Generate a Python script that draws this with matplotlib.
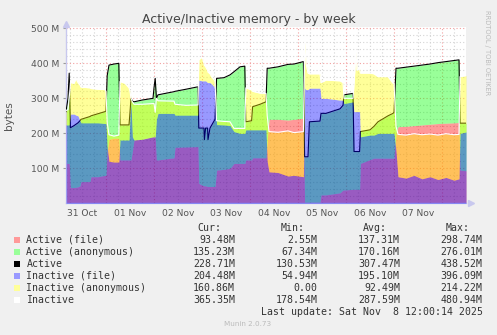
import matplotlib
matplotlib.use('Agg')
import matplotlib.pyplot as plt

# hours since 31 Oct 00:00, values in M (10^6 bytes)
hours = [4.0, 5.0, 5.6, 6.2, 8.0, 9.0, 10.0, 11.0, 11.5, 16.0, 16.5, 20.0, 23.5, 24.0, 24.6,
         25.5, 28.0, 30.4, 31.0, 33.5, 35.5, 36.0, 36.5, 37.2, 38.0, 42.0, 47.5, 48.0, 48.6,
         49.2, 50.0, 58.0, 58.5, 64.0, 70.0, 70.4, 72.0, 73.0, 73.2, 73.8, 74.8, 75.0, 76.0,
         77.0, 78.5, 79.3, 83.0, 86.0, 88.0, 91.0, 93.4, 93.9, 96.8, 97.3, 101.0, 104.0,
         104.6, 105.5, 110.0, 115.0, 118.0, 122.7, 123.3, 124.0, 125.0, 125.7, 131.0, 131.5,
         134.0, 141.0, 142.5, 143.0, 147.5, 148.0, 149.0, 149.5, 150.8, 151.2, 156.0, 158.0,
         160.0, 165.0, 167.5, 168.0, 169.0, 170.0, 174.0, 178.0, 182.0, 186.0, 190.0, 194.0,
         198.0, 200.5, 201.0, 204.0]
active_file = [114, 114, 114, 45, 45, 46, 47, 50, 62, 62, 76, 76, 80, 80, 150,
               183, 186, 186, 124, 124, 124, 124, 124, 150, 181, 183, 190, 190, 190,
               124, 124, 130, 160, 161, 162, 57, 52, 50, 50, 50, 48, 48, 48,
               48, 48, 95, 97, 100, 114, 114, 114, 124, 124, 130, 130, 130,
               180, 240, 240, 238, 240, 243, 3, 3, 3, 3, 3, 24,
               24, 30, 38, 38, 40, 40, 40, 40, 40, 114, 125, 129,
               129, 129, 129, 129, 200, 219, 220, 222, 224, 226, 228, 229,
               230, 231, 95, 93]
active_total = [262, 300, 372, 216, 222, 226, 230, 236, 240, 248, 250, 256, 262, 264, 365,
                395, 398, 400, 224, 224, 224, 260, 300, 292, 290, 295, 300, 330, 357,
                300, 310, 319, 320, 326, 333, 215, 215, 215, 182, 215, 215, 182, 215,
                225, 240, 357, 359, 367, 376, 390, 392, 233, 236, 276, 283, 290,
                386, 386, 390, 397, 398, 405, 133, 133, 133, 233, 235, 257,
                257, 270, 280, 310, 314, 148, 148, 148, 148, 205, 210, 220,
                233, 250, 257, 260, 386, 386, 389, 392, 395, 398, 402, 405,
                408, 410, 229, 229]
inactive_file = [224, 224, 224, 255, 255, 252, 250, 236, 230, 230, 230, 230, 228, 228, 160,
                 120, 118, 118, 181, 181, 181, 250, 285, 190, 181, 183, 190, 190, 190,
                 240, 257, 257, 252, 252, 252, 352, 350, 350, 350, 350, 345, 345, 345,
                 340, 330, 225, 224, 222, 205, 200, 200, 210, 210, 210, 210, 210,
                 120, 90, 88, 78, 80, 76, 329, 325, 325, 329, 329, 300,
                 300, 295, 295, 285, 290, 262, 262, 262, 262, 190, 195, 195,
                 200, 200, 200, 200, 150, 76, 72, 80, 70, 76, 68, 74,
                 66, 70, 200, 204]
inactive_total = [265, 268, 300, 345, 343, 356, 345, 338, 332, 330, 328, 326, 325, 320, 230,
                  196, 192, 195, 348, 343, 330, 320, 300, 290, 283, 283, 285, 285, 260,
                  300, 293, 292, 283, 280, 281, 410, 418, 400, 395, 390, 380, 375, 370,
                  360, 350, 236, 234, 233, 214, 214, 214, 330, 324, 320, 315, 314,
                  250, 205, 203, 207, 202, 205, 460, 400, 372, 370, 370, 345,
                  352, 350, 345, 300, 300, 340, 433, 380, 385, 372, 372, 370,
                  362, 362, 343, 343, 220, 197, 195, 199, 196, 198, 195, 199,
                  196, 197, 362, 365]

day_ticks = [12, 36, 60, 84, 108, 132, 156, 180]
day_labels = ['31 Oct', '01 Nov', '02 Nov', '03 Nov', '04 Nov', '05 Nov', '06 Nov', '07 Nov']
y_ticks = [100, 200, 300, 400, 500]

legend_names = ['Active (file)', 'Active (anonymous)', 'Active',
                'Inactive (file)', 'Inactive (anonymous)', 'Inactive']
legend_colors = ['#FF9999', '#99FF99', '#000000', '#9999FF', '#FFFF99', '#FFFFFF']
cur_vals = ['93.48M', '135.23M', '228.71M', '204.48M', '160.86M', '365.35M']
min_vals = ['2.55M', '67.34M', '130.53M', '54.94M', '0.00', '178.54M']
avg_vals = ['137.31M', '170.16M', '307.47M', '195.10M', '92.49M', '287.59M']
max_vals = ['298.74M', '276.01M', '438.52M', '396.09M', '214.22M', '480.94M']

W, H = 497, 335
fig = plt.figure(figsize=(W / 100, H / 100), dpi=100, facecolor='#F0F0F0')
ax = fig.add_axes([66 / W, 1 - 203.3 / H, 400 / W, 176 / H])
ax.set_facecolor('white')
ax.set_xlim(4, 204)
ax.set_ylim(0, 503)

# grid: minor grey, major red, dotted
for h in range(6, 204, 6):
    c = '#F2A0A0' if h % 24 == 0 else '#D4D4D4'
    ax.axvline(h, color=c, lw=0.8, ls=(0, (1, 2)), zorder=0)
for v in range(20, 501, 20):
    c = '#F2A0A0' if v % 100 == 0 else '#D4D4D4'
    ax.axhline(v, color=c, lw=0.8, ls=(0, (1, 2)), zorder=0)

# active stack, then active line, then inactive stack drawn translucent over it
ax.fill_between(hours, 0, active_file, color='#FF0000', alpha=0.4, lw=0, zorder=2)
ax.fill_between(hours, active_file, active_total, color='#00FF00', alpha=0.4, lw=0, zorder=2)
ax.plot(hours, active_total, color='black', lw=0.8, zorder=3)
ax.fill_between(hours, 0, inactive_file, color='#0000FF', alpha=0.4, lw=0, zorder=4)
ax.fill_between(hours, inactive_file, inactive_total, color='#FFFF00', alpha=0.4, lw=0, zorder=4)
ax.plot(hours, inactive_total, color='white', lw=0.8, zorder=5)

for s in ['top', 'right']:
    ax.spines[s].set_visible(False)
for s in ['left', 'bottom']:
    ax.spines[s].set_color('#C8C8EE')
    ax.spines[s].set_linewidth(1.0)
ax.plot([4], [512], marker='^', color='#C8C8EE', ms=4, clip_on=False, zorder=6)
ax.plot([206.5], [0], marker='>', color='#C8C8EE', ms=4, clip_on=False, zorder=6)

ax.set_yticks(y_ticks, ['%d M' % v for v in y_ticks])
ax.set_xticks(day_ticks, day_labels)
ax.tick_params(axis='y', length=2, color='#999999', pad=3, labelsize=6.6, labelcolor='#555555')
ax.tick_params(axis='x', length=0, pad=4, labelsize=6.6, labelcolor='#555555')
ax.set_ylabel('bytes', fontsize=7.5, color='#555555', labelpad=12)

fig.text(249 / W, 1 - 20 / H, 'Active/Inactive memory - by week', ha='center', va='center',
         fontsize=9, color='#444444')
fig.text(487 / W, 1 - 53 / H, 'RRDTOOL / TOBI OETIKER', rotation=270, ha='center', va='center',
         fontsize=4.8, color='#BBBBBB')

mono = 'DejaVu Sans Mono'
fs = 7.1
tc = '#333333'
for x, lab in [(221.7, 'Cur:'), (305, 'Min:'), (386.7, 'Avg:'), (470, 'Max:')]:
    fig.text(x / W, 1 - 227.7 / H, lab, ha='right', va='center', family=mono, fontsize=fs, color=tc)
for i in range(len(legend_names)):
    y = 1 - (240 + 12 * i) / H
    fig.patches.append(plt.Rectangle((14 / W, y - 3 / H), 6 / W, 6 / H,
                                     transform=fig.transFigure, facecolor=legend_colors[i],
                                     edgecolor='none'))
    fig.text(26.5 / W, y, legend_names[i], ha='left', va='center', family=mono, fontsize=fs, color=tc)
    fig.text(235 / W, y, cur_vals[i], ha='right', va='center', family=mono, fontsize=fs, color=tc)
    fig.text(317.7 / W, y, min_vals[i], ha='right', va='center', family=mono, fontsize=fs, color=tc)
    fig.text(400 / W, y, avg_vals[i], ha='right', va='center', family=mono, fontsize=fs, color=tc)
    fig.text(482.7 / W, y, max_vals[i], ha='right', va='center', family=mono, fontsize=fs, color=tc)
fig.text(482.7 / W, 1 - 311.7 / H, 'Last update: Sat Nov  8 12:00:14 2025', ha='right', va='center',
         family=mono, fontsize=fs, color=tc)
fig.text(248 / W, 1 - 324.5 / H, 'Munin 2.0.73', ha='center', va='center', fontsize=5.2,
         color='#BBBBBB')

fig.savefig('out.png', dpi=100, facecolor=fig.get_facecolor())
